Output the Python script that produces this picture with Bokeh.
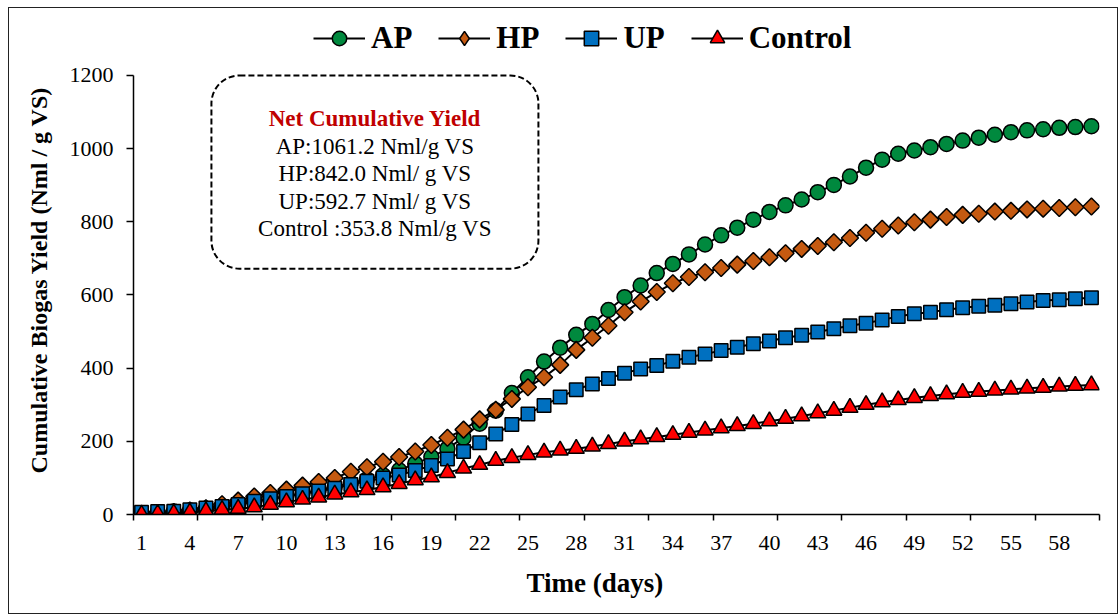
import numpy as np
from bokeh.plotting import figure
from bokeh.models import (Range1d, FixedTicker, Legend, LegendItem, BoxAnnotation,
                          Label, Title, CDSView, IndexFilter)
from bokeh.embed import file_html
from bokeh.resources import INLINE

# ---------------- data ----------------
days = list(range(1, 61))
ap = [3, 5, 8, 11, 16, 22, 28, 35, 42, 50,
      58, 67, 76, 86, 96, 107, 121, 139, 157, 180,
      210, 248, 284, 332, 375, 418, 456, 491, 521, 559,
      594, 626, 660, 685, 711, 738, 763, 784, 806, 827,
      845, 861, 881, 901, 924, 948, 970, 986, 995, 1004,
      1013, 1022, 1030, 1038, 1045, 1050, 1053, 1057, 1059, 1061.2]
hp = [2, 4, 7, 11, 17, 28, 38, 49, 59, 68,
      79, 89, 100, 117, 129, 144, 157, 172, 190, 210,
      232, 260, 286, 316, 348, 375, 409, 450, 483, 516,
      553, 582, 608, 632, 649, 662, 674, 683, 693, 703,
      714, 726, 734, 744, 756, 770, 781, 790, 799, 806,
      813, 819, 822, 828, 830, 834, 836, 838, 840, 842.0]
up = [6, 8, 9, 13, 18, 22, 27, 36, 43, 49,
      57, 64, 72, 82, 91, 100, 108, 120, 134, 152,
      172, 196, 220, 246, 275, 298, 321, 341, 357, 372,
      386, 398, 407, 419, 430, 439, 448, 457, 467, 474,
      483, 490, 499, 508, 516, 523, 532, 541, 549, 553,
      560, 565, 569, 572, 576, 581, 585, 587, 590, 592.7]
control = [0, 2, 3, 6, 9, 13, 16, 20, 27, 34,
           41, 47, 55, 61, 67, 75, 84, 94, 102, 114,
           126, 136, 147, 155, 163, 170, 175, 180, 186, 193,
           200, 206, 212, 218, 224, 230, 236, 242, 248, 255,
           262, 269, 277, 284, 292, 300, 307, 313, 319, 324,
           329, 333, 336, 339, 342, 345, 347, 350, 352, 353.8]
series_names = ["AP", "HP", "UP", "Control"]
x_label_days = list(range(1, 59, 3))
y_ticks = [0, 200, 400, 600, 800, 1000, 1200]
summary_title = "Net Cumulative Yield"
summary_lines = ["AP:1061.2 Nml/g VS", "HP:842.0 Nml/ g VS",
                 "UP:592.7 Nml/ g VS", "Control :353.8 Nml/g VS"]

FONT = "Liberation Serif"

p = figure(width=1110, height=607, output_backend="svg", toolbar_location=None,
           x_range=Range1d(0.5, 60.5), y_range=Range1d(0, 1372.2),
           min_border_left=124, min_border_right=20, min_border_top=4,
           min_border_bottom=101)
p.styles = {"margin-left": "8px", "margin-top": "7px",
            "border": "1px solid #222222"}
p.grid.visible = False
p.outline_line_color = None
p.background_fill_color = "white"
p.border_fill_color = "white"

# x axis
p.xaxis.ticker = FixedTicker(ticks=x_label_days,
                             minor_ticks=[0.5 + 4 * k for k in range(16)])
p.xaxis.major_tick_out = 0
p.xaxis.major_tick_in = 0
p.xaxis.minor_tick_out = 6
p.xaxis.minor_tick_in = 0
p.xaxis.minor_tick_line_color = "black"
p.xaxis.minor_tick_line_width = 1.5
p.xaxis.axis_line_width = 1.5
p.xaxis.major_label_standoff = 15
p.xaxis.major_label_text_font = FONT
p.xaxis.major_label_text_font_size = "22px"
p.xaxis.major_label_text_color = "black"

# y axis
p.yaxis.ticker = FixedTicker(ticks=y_ticks)
p.yaxis.bounds = (0, 1200)
p.yaxis.major_tick_out = 7
p.yaxis.major_tick_in = 0
p.yaxis.minor_tick_out = 0
p.yaxis.minor_tick_in = 0
p.yaxis.major_tick_line_width = 1.5
p.yaxis.axis_line_width = 1.5
p.yaxis.major_label_standoff = 13
p.yaxis.major_label_text_font = FONT
p.yaxis.major_label_text_font_size = "22px"
p.yaxis.major_label_text_color = "black"

# axis titles
x_title = Title(text="Time (days)", align="left", offset=393, standoff=26,
                text_font=FONT, text_font_size="27px", text_font_style="bold",
                text_color="black")
p.add_layout(x_title, "below")
y_title = Title(text="Cumulative Biogas Yield (Nml / g VS)", align="left",
                offset=41, standoff=29, text_font=FONT, text_font_size="24px",
                text_font_style="bold", text_color="black")
p.add_layout(y_title, "left")

styles = [
    dict(marker="circle", color="#00893E", size=15, angle=0.0, legend_marker="circle"),
    dict(marker="square", color="#C55A11", size=12, angle=np.pi / 4, legend_marker="diamond"),
    dict(marker="square", color="#0070C0", size=13.5, angle=0.0, legend_marker="square"),
    dict(marker="triangle", color="#FF0000", size=16, angle=0.0, legend_marker="triangle"),
]

items = []
for name, vals, st in zip(series_names, [ap, hp, up, control], styles):
    lr = p.line(days, vals, line_color="black", line_width=2)
    legend_r = None
    if st["legend_marker"] != st["marker"]:
        # legend glyph proxy: one point, hidden underneath the real marker
        legend_r = p.scatter(days, vals, marker=st["legend_marker"], size=15,
                             fill_color=st["color"], line_color="black", line_width=1.5,
                             view=CDSView(filter=IndexFilter(indices=[len(days) - 1])))
    sr = p.scatter(days, vals, marker=st["marker"], size=st["size"], angle=st["angle"],
                   fill_color=st["color"], line_color="black", line_width=1.5)
    items.append(LegendItem(label=name, renderers=[lr, legend_r or sr]))

legend = Legend(items=items, orientation="horizontal", location=(180, 458),
                glyph_width=52, glyph_height=36, label_standoff=6, spacing=26,
                padding=0, margin=0, border_line_color=None,
                background_fill_alpha=0,
                label_text_font=FONT, label_text_font_size="31px",
                label_text_font_style="bold", label_text_color="black")
p.add_layout(legend)

# dashed rounded annotation box
box = BoxAnnotation(left=5.34, right=25.65, top=1200, bottom=672,
                    fill_alpha=0, line_color="black", line_alpha=1.0,
                    line_dash="6 3", line_width=2, border_radius=28)
p.add_layout(box)

text_x = 15.5
text_ys = [1082, 1006, 932, 856, 782]
p.add_layout(Label(x=text_x, y=text_ys[0], text=summary_title, text_align="center",
                   text_baseline="middle", text_font=FONT, text_font_size="23px",
                   text_font_style="bold", text_color="#C00000"))
for t, yy in zip(summary_lines, text_ys[1:]):
    p.add_layout(Label(x=text_x, y=yy, text=t, text_align="center",
                       text_baseline="middle", text_font=FONT, text_font_size="23px",
                       text_color="black"))

open("out.html", "w").write(file_html(p, INLINE))
